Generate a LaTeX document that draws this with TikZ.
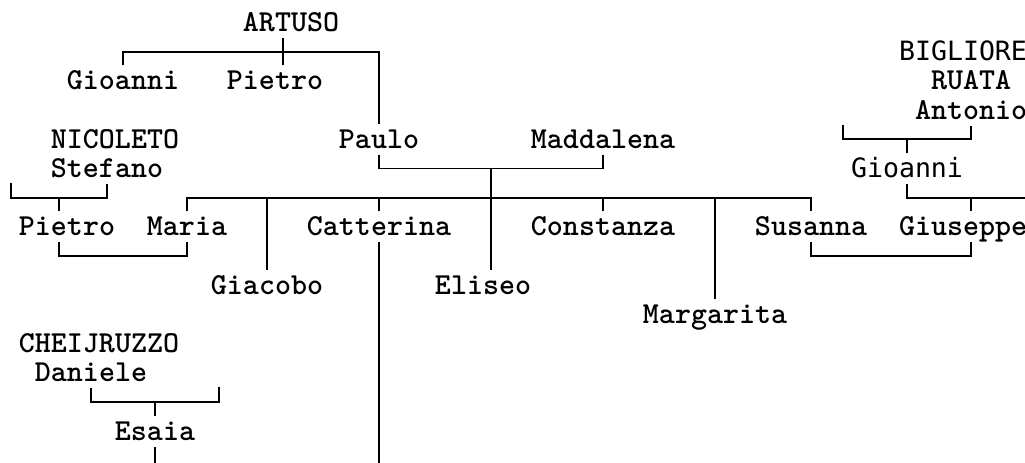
\documentclass[tikz,border=0pt]{standalone}
\usepackage{fontspec}
\newfontfamily\sansmono{DejaVu Sans Mono}

\begin{document}
\begin{tikzpicture}[x=12pt,y=-21.9pt,line width=1.3pt]
  \useasboundingbox (-0.6875,-0.77) rectangle (63.375,15.085);
  \begin{scope}[every node/.style={inner sep=0,text height=17.7pt,text depth=4.2pt,
      font=\fontsize{22.86pt}{24pt}\selectfont\ttfamily\bfseries}]
    \node (artuso) at (17.5,0) {ARTUSO};
    \node (bigliore) [font=\fontsize{19.93pt}{24pt}\selectfont\sansmono] at (59.5,1) {BIGLIORE};
    \node (gioanniA) at (7,2) {Gioanni};
    \node (pietroA) at (16.5,2) {Pietro};
    \node (ruata) at (60,2) {RUATA};
    \node (antonio) at (60,3) {Antonio};
    \node (nicoleto) at (6.5,4) {NICOLETO};
    \node (paulo) at (23,4) {Paulo};
    \node (maddalena) at (37,4) {Maddalena};
    \node (stefano) at (6,5) {Stefano};
    \node (gioanniB) [font=\fontsize{19.93pt}{24pt}\selectfont\sansmono] at (56,5) {Gioanni};
    \node (pietroB) at (3.5,7) {Pietro};
    \node (maria) at (11,7) {Maria};
    \node (catterina) at (23,7) {Catterina};
    \node (constanza) at (37,7) {Constanza};
    \node (susanna) at (50,7) {Susanna};
    \node (giuseppe) at (59.5,7) {Giuseppe};
    \node (giacobo) at (16,9) {Giacobo};
    \node (eliseo) at (29.5,9) {Eliseo};
    \node (margarita) at (44,10) {Margarita};
    \node (cheijruzzo) at (5.5,11) {CHEIJRUZZO};
    \node (daniele) at (5,12) {Daniele};
    \node (esaia) at (9,14) {Esaia};
  \end{scope}

  % junctions of the family bars
  \coordinate (artuso-bar) at (17,1);
  \coordinate (paulo-bar) at (30,5);
  \coordinate (kids-bar) at (30,6);
  \coordinate (nicoleto-bar) at (3,6);
  \coordinate (nicoleto-w) at (0,5.5);
  \coordinate (maria-bar) at (7,8);
  \coordinate (susanna-bar) at (55,8);
  \coordinate (ruata-bar) at (56,4);
  \coordinate (ruata-w) at (52,3.5);
  \coordinate (gioanni-bar) at (60,6);
  \coordinate (gioanni-e) at (63.4,6);
  \coordinate (daniele-bar) at (9,13);
  \coordinate (daniele-e) at (13,12.5);
  \coordinate (cut) at (0,15.1);

  \draw (gioanniA.north) |- (artuso-bar) -| (paulo.north);
  \draw (artuso.south -| artuso-bar) -- (pietroA.north -| artuso-bar);
  \draw (paulo.south) |- (paulo-bar) -| (maddalena.south);
  \draw (paulo-bar) -- (eliseo.north -| paulo-bar);
  \draw (maria.north) |- (kids-bar) -| (susanna.north);
  \foreach \kid in {giacobo,catterina,constanza,margarita}
    \draw (\kid.north) -- (\kid.north |- kids-bar);
  \draw (catterina.south) -- (catterina.south |- cut);
  \draw (nicoleto-w) |- (nicoleto-bar) -| (stefano.south);
  \draw (nicoleto-bar) -- (pietroB.north -| nicoleto-bar);
  \draw (pietroB.south -| nicoleto-bar) |- (maria-bar) -| (maria.south);
  \draw (susanna.south) |- (susanna-bar) -| (giuseppe.south -| gioanni-bar);
  \draw (ruata-w) |- (ruata-bar) -| (antonio.south);
  \draw (ruata-bar) -- (gioanniB.north);
  \draw (gioanniB.south) |- (gioanni-e);
  \draw (gioanni-bar) -- (giuseppe.north -| gioanni-bar);
  \draw (daniele.south) |- (daniele-bar) -| (daniele-e);
  \draw (daniele-bar) -- (esaia.north);
  \draw (esaia.south) -- (esaia.south |- cut);
\end{tikzpicture}
\end{document}
